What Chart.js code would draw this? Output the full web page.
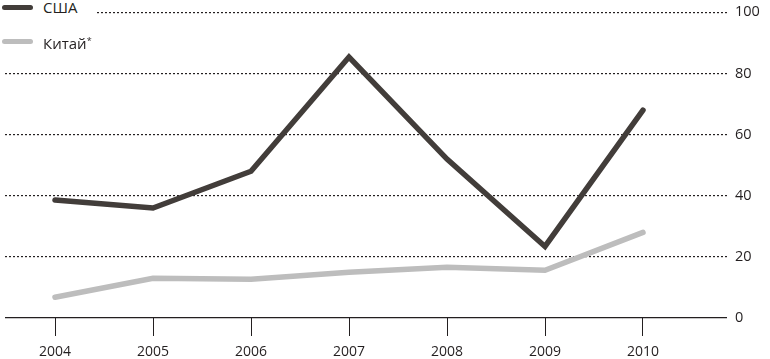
<!DOCTYPE html>
<html lang="ru">
<head>
    <meta charset="UTF-8">
    <title>США и Китай</title>
    <script src="https://cdn.jsdelivr.net/npm/chart.js"></script>
    <style>
        body { margin: 0; padding: 0; background: #fff; font-family: 'Open Sans', sans-serif; }
        #wrap { position: relative; width: 770px; height: 359px; }
        .item { position: absolute; white-space: nowrap; background: #fff; font-size: 15px; color: #231f20; }
        .swatch { position: absolute; left: 2px; width: 31px; height: 5px; border-radius: 3px; }
        .lbl { position: absolute; left: 43px; line-height: 16px; }
        .lbl sup { font-size: 9px; vertical-align: 5px; }
    </style>
</head>
<body>
<div id="wrap">
    <canvas id="chart" width="770" height="359"></canvas>
    <div class="item" style="left:0;top:0;width:96px;height:18px;">
        <div class="swatch" style="top:5px;background:#423d3a;"></div>
        <div class="lbl" style="top:-1px;">США</div>
    </div>
    <div class="item" style="left:0;top:32px;width:96px;height:18px;">
        <div class="swatch" style="top:7px;background:#bdbdbd;"></div>
        <div class="lbl" style="top:1px;">Китай<sup>*</sup></div>
    </div>
</div>
<script>
    const years = [2004, 2005, 2006, 2007, 2008, 2009, 2010];
    const usa = [38.6, 36, 48, 85.4, 52, 23.4, 68];
    const china = [6.8, 13, 12.7, 15, 16.6, 15.6, 28];
    const yTicks = [0, 20, 40, 60, 80, 100];

    const ink = '#231f20';

    new Chart(document.getElementById('chart'), {
        type: 'line',
        data: {
            datasets: [
                {
                    label: 'Китай*',
                    data: years.map((y, i) => ({ x: y, y: china[i] })),
                    borderColor: '#bdbdbd',
                    borderWidth: 5.5,
                    pointRadius: 0,
                    borderCapStyle: 'round',
                    tension: 0
                },
                {
                    label: 'США',
                    data: years.map((y, i) => ({ x: y, y: usa[i] })),
                    borderColor: '#423d3a',
                    borderWidth: 5.5,
                    pointRadius: 0,
                    borderCapStyle: 'round',
                    tension: 0
                }
            ]
        },
        options: {
            responsive: false,
            animation: false,
            layout: { padding: { left: 5, top: 10, right: 0, bottom: 0 } },
            plugins: { legend: { display: false }, tooltip: { enabled: false } },
            scales: {
                x: {
                    type: 'linear',
                    min: 2004 - 50 / 98,
                    max: 2010 + 84 / 98,
                    afterBuildTicks: s => { s.ticks = years.map(v => ({ value: v })); },
                    afterFit: s => { s.height = 41; },
                    grid: {
                        drawOnChartArea: false,
                        drawTicks: true,
                        tickLength: 18,
                        color: ink,
                        lineWidth: 1
                    },
                    border: { display: false },
                    ticks: {
                        color: ink,
                        font: { family: 'Open Sans', size: 14 },
                        padding: 8,
                        callback: v => String(v)
                    }
                },
                y: {
                    position: 'right',
                    min: 0,
                    max: 100,
                    afterBuildTicks: s => { s.ticks = yTicks.map(v => ({ value: v })); },
                    afterFit: s => { s.width = 43; },
                    grid: {
                        drawTicks: false,
                        color: ink,
                        lineWidth: 1.2
                    },
                    border: {
                        display: false,
                        dash: c => c.tick && c.tick.value === 0 ? [] : [2, 2]
                    },
                    ticks: {
                        color: ink,
                        font: { family: 'Open Sans', size: 14.5, lineHeight: 0.6 },
                        padding: 8
                    }
                }
            }
        }
    });
</script>
</body>
</html>
